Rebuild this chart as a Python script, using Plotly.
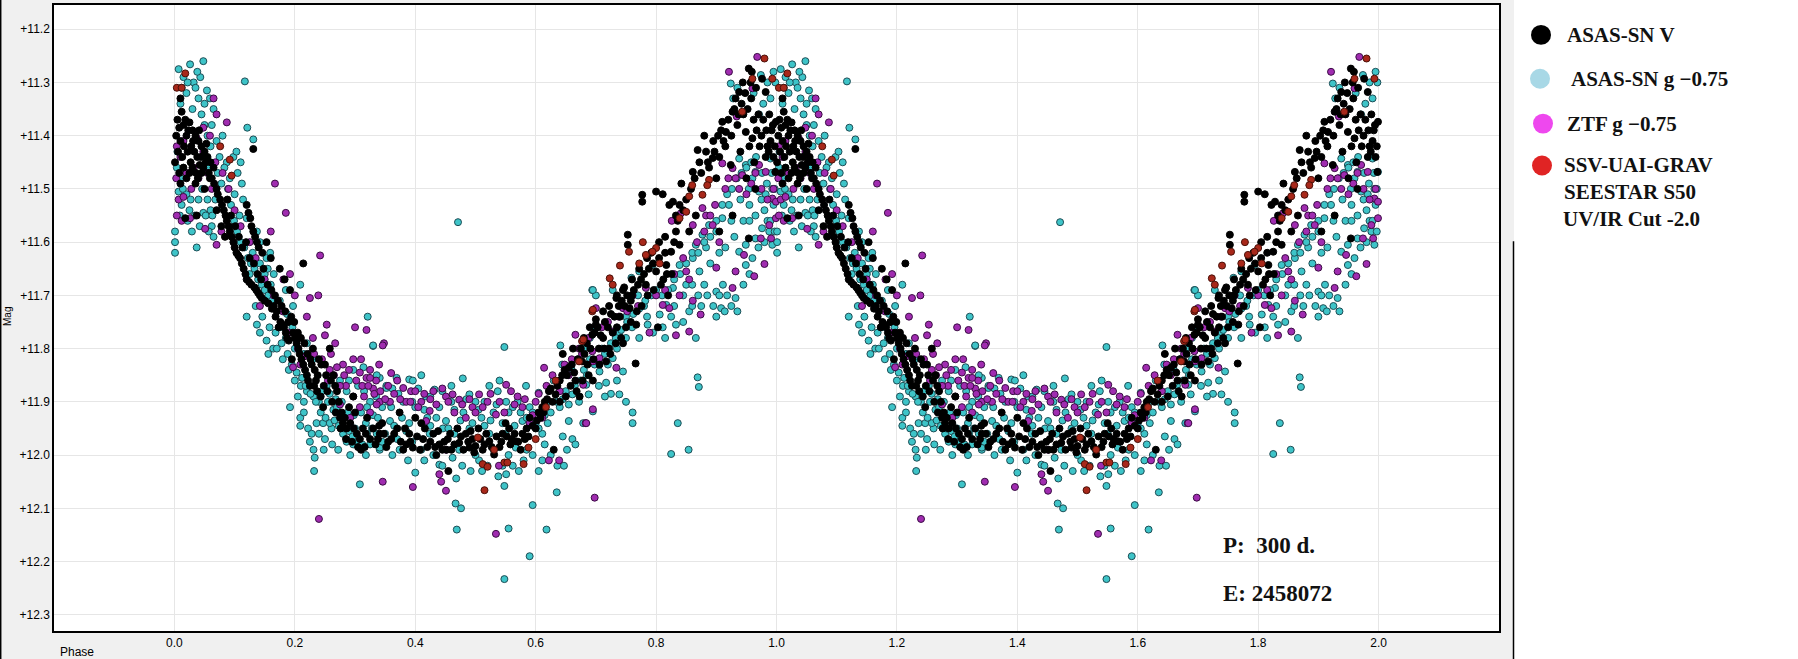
import plotly.graph_objects as go

# ---------------- data (phase in [0,1), magnitude) ----------------
asassn_v = [
    (0.010, 11.330), (0.012, 11.355), (0.005, 11.370), (0.015, 11.380), (0.025, 11.375), (0.030, 11.390),
    (0.020, 11.400), (0.035, 11.400), (0.040, 11.410), (0.045, 11.420), (0.010, 11.410), (0.028, 11.420),
    (0.050, 11.430), (0.038, 11.440), (0.055, 11.440), (0.060, 11.450), (0.001, 11.450), (0.015, 11.460),
    (0.030, 11.460), (0.045, 11.470), (0.065, 11.460), (0.020, 11.480), (0.035, 11.490), (0.010, 11.490),
    (0.050, 11.500), (0.059, 11.480), (0.018, 11.555), (0.037, 11.550), (0.008, 11.385), (0.022, 11.430),
    (0.042, 11.455), (0.070, 11.500), (0.076, 11.520), (0.082, 11.540), (0.087, 11.560), (0.092, 11.580),
    (0.098, 11.600), (0.103, 11.620), (0.109, 11.630), (0.115, 11.650), (0.120, 11.670), (0.128, 11.680),
    (0.136, 11.690), (0.142, 11.700), (0.120, 11.530), (0.126, 11.555), (0.131, 11.580), (0.137, 11.600),
    (0.131, 11.425), (0.153, 11.600), (0.160, 11.630), (0.150, 11.710), (0.165, 11.720), (0.175, 11.650),
    (0.183, 11.670), (0.192, 11.690), (0.170, 11.730), (0.176, 11.750), (0.182, 11.760), (0.187, 11.780),
    (0.197, 11.770), (0.203, 11.790), (0.208, 11.810), (0.214, 11.830), (0.220, 11.850), (0.214, 11.640),
    (0.195, 11.820), (0.225, 11.870), (0.230, 11.800), (0.235, 11.860), (0.240, 11.820), (0.250, 11.830),
    (0.258, 11.800), (0.264, 11.850), (0.247, 11.910), (0.270, 11.880), (0.275, 11.930), (0.280, 11.940),
    (0.286, 11.950), (0.290, 11.910), (0.297, 11.890), (0.300, 11.920), (0.308, 11.970), (0.310, 11.990),
    (0.320, 11.930), (0.330, 11.950), (0.338, 11.970),
    (0.341, 11.960), (0.345, 11.940), (0.352, 11.985), (0.360, 11.970), (0.370, 11.950), (0.374, 11.920),
    (0.380, 11.990), (0.385, 11.980), (0.390, 11.960), (0.396, 11.986), (0.400, 11.930), (0.410, 11.940),
    (0.413, 11.970), (0.420, 11.985), (0.430, 11.960), (0.435, 12.000), (0.440, 11.980), (0.445, 11.990),
    (0.454, 11.970), (0.455, 12.030), (0.460, 11.990), (0.470, 11.950), (0.473, 11.977), (0.480, 11.990),
    (0.484, 11.960), (0.490, 11.986), (0.495, 11.970), (0.500, 11.983), (0.505, 11.950), (0.515, 11.980),
    (0.523, 11.974), (0.531, 11.999), (0.540, 11.985), (0.545, 11.960), (0.550, 11.940), (0.556, 11.950),
    (0.560, 11.970), (0.567, 11.974), (0.575, 11.990), (0.578, 11.960), (0.585, 11.950), (0.590, 11.930),
    (0.600, 11.950), (0.605, 11.920), (0.611, 11.910), (0.615, 11.900), (0.622, 11.880), (0.630, 11.990),
    (0.633, 11.886), (0.644, 11.850), (0.655, 11.836), (0.666, 11.860), (0.673, 11.890), (0.677, 11.824),
    (0.688, 11.850), (0.694, 11.774), (0.700, 11.755),
    (0.695, 11.860), (0.717, 11.824), (0.728, 11.770), (0.734, 11.705), (0.740, 11.740), (0.756, 11.724),
    (0.767, 11.755), (0.766, 11.828), (0.753, 11.586), (0.753, 11.605), (0.777, 11.511), (0.777, 11.524),
    (0.783, 11.680), (0.800, 11.505), (0.800, 11.655), (0.803, 11.760), (0.811, 11.510), (0.817, 11.643),
    (0.822, 11.530), (0.825, 11.618), (0.828, 11.524), (0.833, 11.580), (0.833, 11.550), (0.839, 11.530),
    (0.839, 11.605), (0.842, 11.490), (0.855, 11.580), (0.861, 11.468), (0.866, 11.550), (0.869, 11.427),
    (0.872, 11.450), (0.883, 11.430), (0.894, 11.442), (0.900, 11.480), (0.905, 11.580), (0.910, 11.374),
    (0.916, 11.393), (0.924, 11.455), (0.927, 11.355), (0.927, 11.550), (0.932, 11.330), (0.938, 11.318),
    (0.949, 11.393), (0.954, 11.274), (0.954, 11.593), (0.957, 11.300), (0.960, 11.405), (0.965, 11.500),
    (0.970, 11.360), (0.976, 11.293), (0.982, 11.318), (0.982, 11.440), (0.988, 11.360), (0.998, 11.468),
    (0.999, 11.374), (0.745, 11.690), (0.760, 11.700), (0.812, 11.670), (0.820, 11.700), (0.826, 11.660),
    (0.705, 11.800), (0.712, 11.780), (0.722, 11.800), (0.735, 11.760), (0.745, 11.790),
    (0.880, 11.400), (0.888, 11.460), (0.895, 11.410), (0.905, 11.440), (0.915, 11.420),
    (0.935, 11.380), (0.945, 11.360), (0.955, 11.420), (0.963, 11.450), (0.975, 11.400), (0.985, 11.420),
    (0.992, 11.390), (0.940, 11.430), (0.950, 11.480), (0.995, 11.440),
    (0.003, 11.400), (0.006, 11.430), (0.013, 11.440), (0.018, 11.370), (0.023, 11.390), (0.027, 11.450),
    (0.033, 11.430), (0.036, 11.470), (0.041, 11.390), (0.044, 11.440), (0.048, 11.460), (0.052, 11.450),
    (0.057, 11.470), (0.062, 11.480), (0.025, 11.470), (0.016, 11.420), (0.031, 11.410), (0.008, 11.470),
    (0.039, 11.480), (0.053, 11.415),
    (0.066, 11.490), (0.072, 11.510), (0.079, 11.530), (0.085, 11.550), (0.090, 11.570), (0.095, 11.590),
    (0.100, 11.610), (0.106, 11.625), (0.112, 11.640), (0.118, 11.660), (0.124, 11.675), (0.133, 11.685),
    (0.139, 11.695), (0.145, 11.705), (0.123, 11.545), (0.128, 11.570), (0.134, 11.590), (0.140, 11.610),
    (0.146, 11.620),
    (0.156, 11.715), (0.162, 11.725), (0.168, 11.740), (0.173, 11.760), (0.179, 11.755), (0.185, 11.770),
    (0.190, 11.785), (0.200, 11.780), (0.206, 11.800), (0.211, 11.820), (0.217, 11.840), (0.222, 11.860),
    (0.228, 11.830), (0.233, 11.840), (0.238, 11.850), (0.244, 11.830), (0.252, 11.850), (0.260, 11.860),
    (0.267, 11.870), (0.273, 11.900), (0.278, 11.920), (0.283, 11.930), (0.292, 11.940), (0.298, 11.950),
    (0.303, 11.960), (0.313, 11.950), (0.318, 11.960), (0.325, 11.970), (0.334, 11.980), (0.340, 11.945),
    (0.348, 11.960), (0.355, 11.975), (0.365, 11.960), (0.376, 11.975), (0.383, 11.950), (0.392, 11.975),
    (0.403, 11.965), (0.408, 11.990), (0.416, 11.950), (0.425, 11.975), (0.433, 11.985), (0.438, 11.955),
    (0.448, 11.975), (0.452, 11.990), (0.458, 11.960), (0.465, 11.980), (0.476, 11.965), (0.488, 11.975),
    (0.492, 11.955), (0.498, 11.995), (0.508, 11.970), (0.512, 11.990), (0.518, 11.960), (0.527, 11.985),
    (0.535, 11.965), (0.543, 11.975), (0.552, 11.965), (0.558, 11.980), (0.565, 11.960), (0.571, 11.975),
    (0.582, 11.970), (0.588, 11.965), (0.595, 11.945), (0.602, 11.935), (0.608, 11.930), (0.613, 11.920),
    (0.619, 11.895), (0.625, 11.875), (0.628, 11.900),
    (0.636, 11.870), (0.640, 11.860), (0.648, 11.840), (0.652, 11.850), (0.660, 11.830), (0.664, 11.845),
    (0.670, 11.820), (0.675, 11.800), (0.681, 11.810), (0.685, 11.790), (0.691, 11.800), (0.698, 11.770),
    (0.703, 11.760), (0.708, 11.775), (0.715, 11.750), (0.720, 11.760), (0.725, 11.735), (0.731, 11.740),
    (0.738, 11.720), (0.743, 11.710), (0.748, 11.720), (0.752, 11.700), (0.758, 11.710), (0.763, 11.690),
    (0.770, 11.680), (0.775, 11.670), (0.780, 11.660), (0.788, 11.650), (0.795, 11.640), (0.805, 11.630),
    (0.815, 11.620), (0.830, 11.600), (0.836, 11.560), (0.845, 11.540), (0.850, 11.520), (0.858, 11.500),
    (0.864, 11.480), (0.875, 11.470), (0.886, 11.450), (0.897, 11.430), (0.903, 11.400), (0.908, 11.390),
    (0.912, 11.410), (0.920, 11.370), (0.925, 11.400), (0.930, 11.350), (0.937, 11.360), (0.942, 11.340),
    (0.948, 11.320), (0.952, 11.350), (0.958, 11.330), (0.962, 11.370), (0.967, 11.390), (0.972, 11.420),
    (0.978, 11.370), (0.983, 11.390), (0.987, 11.430), (0.990, 11.410), (0.994, 11.380), (0.997, 11.420),
    (0.966, 11.310), (0.944, 11.300), (0.959, 11.280),
    (0.070, 11.540), (0.078, 11.570), (0.084, 11.590), (0.088, 11.520), (0.094, 11.550), (0.101, 11.570),
    (0.107, 11.590), (0.113, 11.610), (0.119, 11.600), (0.125, 11.630), (0.132, 11.640), (0.138, 11.660),
    (0.144, 11.670), (0.148, 11.650), (0.155, 11.680), (0.161, 11.690), (0.167, 11.700), (0.172, 11.710),
    (0.178, 11.720), (0.184, 11.730), (0.189, 11.750), (0.194, 11.740), (0.199, 11.750), (0.205, 11.770),
    (0.210, 11.780), (0.216, 11.790), (0.221, 11.810), (0.226, 11.820), (0.232, 11.870), (0.237, 11.880),
    (0.243, 11.890), (0.248, 11.870), (0.254, 11.880), (0.262, 11.900), (0.268, 11.920), (0.276, 11.950),
    (0.285, 11.970), (0.295, 11.975), (0.305, 11.985), (0.316, 11.985),
    (0.640, 11.900), (0.650, 11.890), (0.658, 11.870), (0.668, 11.880), (0.678, 11.860), (0.686, 11.830),
    (0.696, 11.820), (0.706, 11.830), (0.714, 11.800), (0.724, 11.810), (0.733, 11.790), (0.742, 11.780),
    (0.750, 11.760), (0.758, 11.750), (0.768, 11.730), (0.776, 11.720), (0.786, 11.700), (0.796, 11.690),
    (0.808, 11.680), (0.818, 11.660), (0.645, 11.810), (0.662, 11.800), (0.680, 11.780), (0.690, 11.760),
    (0.700, 11.745), (0.712, 11.730), (0.722, 11.720), (0.735, 11.700), (0.747, 11.685), (0.760, 11.670),
    (0.772, 11.650), (0.785, 11.630), (0.792, 11.620), (0.805, 11.600), (0.815, 11.590),
]

asassn_g = [
    (0.007, 11.275), (0.026, 11.266), (0.048, 11.260), (0.043, 11.290), (0.032, 11.300), (0.020, 11.320),
    (0.054, 11.315), (0.059, 11.330), (0.015, 11.290), (0.038, 11.280), (0.117, 11.298), (0.121, 11.385),
    (0.131, 11.407), (0.001, 11.580), (0.001, 11.600), (0.001, 11.620), (0.037, 11.610), (0.029, 11.580),
    (0.065, 11.590), (0.062, 11.570), (0.048, 11.545), (0.007, 11.505), (0.010, 11.480), (0.005, 11.430),
    (0.012, 11.530), (0.020, 11.510), (0.025, 11.540), (0.040, 11.520), (0.055, 11.520), (0.060, 11.540),
    (0.045, 11.360), (0.050, 11.380), (0.055, 11.400), (0.060, 11.420), (0.065, 11.350), (0.058, 11.460),
    (0.030, 11.350), (0.087, 11.450), (0.098, 11.440), (0.092, 11.480), (0.112, 11.490), (0.114, 11.520),
    (0.120, 11.555), (0.137, 11.580), (0.142, 11.600), (0.153, 11.630), (0.159, 11.620), (0.142, 11.640),
    (0.125, 11.660), (0.105, 11.470), (0.100, 11.510), (0.108, 11.550), (0.130, 11.620), (0.150, 11.660),
    (0.160, 11.680), (0.135, 11.720), (0.120, 11.740), (0.137, 11.755), (0.142, 11.770), (0.153, 11.785),
    (0.164, 11.800), (0.156, 11.810), (0.175, 11.760), (0.187, 11.735), (0.197, 11.720), (0.209, 11.680),
    (0.192, 11.910), (0.209, 11.930), (0.209, 11.945), (0.220, 11.880), (0.225, 11.975), (0.231, 11.990),
    (0.233, 12.005), (0.232, 12.030), (0.236, 11.940), (0.247, 11.940), (0.250, 11.970), (0.261, 11.950),
    (0.264, 11.915), (0.231, 11.890), (0.253, 11.870), (0.286, 11.880), (0.297, 11.840), (0.314, 11.835),
    (0.321, 11.740), (0.330, 11.795), (0.341, 11.855), (0.352, 11.870), (0.341, 11.990), (0.308, 12.055),
    (0.286, 11.975), (0.297, 11.980), (0.170, 11.800), (0.180, 11.820), (0.190, 11.840), (0.200, 11.860),
    (0.210, 11.870), (0.215, 11.900), (0.185, 11.780), (0.200, 11.800), (0.215, 11.810), (0.240, 11.900),
    (0.255, 11.900), (0.270, 11.910), (0.275, 11.860), (0.290, 11.860), (0.305, 11.870), (0.315, 11.880),
    (0.325, 11.900), (0.335, 11.890), (0.280, 11.960), (0.300, 11.950), (0.320, 11.960), (0.325, 11.980),
    (0.471, 11.5625), (0.548, 11.797), (0.641, 11.794), (0.330, 11.794), (0.694, 11.690), (0.700, 11.700),
    (0.336, 11.850), (0.352, 11.874), (0.369, 11.855), (0.390, 11.858), (0.410, 11.850), (0.418, 11.890),
    (0.432, 11.877), (0.479, 11.856), (0.490, 11.886), (0.500, 11.900), (0.523, 11.870), (0.537, 11.880),
    (0.551, 11.900), (0.562, 11.910), (0.584, 11.870), (0.605, 11.883), (0.617, 11.905), (0.341, 11.986),
    (0.374, 11.990), (0.390, 11.940), (0.424, 11.960), (0.446, 11.950), (0.462, 12.005), (0.473, 11.990),
    (0.506, 12.010), (0.511, 12.030), (0.545, 12.020), (0.551, 12.036), (0.562, 12.020), (0.595, 12.000),
    (0.611, 12.010), (0.636, 12.020), (0.647, 12.020), (0.661, 11.970), (0.666, 11.980), (0.655, 11.936),
    (0.400, 12.033), (0.440, 12.018), (0.468, 12.044), (0.467, 12.091), (0.476, 12.100), (0.469, 12.140),
    (0.548, 12.058), (0.555, 12.138), (0.595, 12.094), (0.618, 12.140), (0.590, 12.190), (0.548, 12.233),
    (0.635, 12.070), (0.644, 11.830), (0.672, 11.900), (0.688, 11.886), (0.396, 11.860), (0.358, 11.936),
    (0.451, 11.936), (0.490, 11.950), (0.578, 11.936), (0.611, 11.960), (0.661, 11.886), (0.523, 11.960),
    (0.567, 11.986), (0.360, 11.910), (0.380, 11.900), (0.400, 11.910), (0.420, 11.930), (0.440, 11.910),
    (0.460, 11.900), (0.480, 11.920), (0.510, 11.930), (0.530, 11.920), (0.550, 11.960), (0.570, 11.900),
    (0.590, 11.910), (0.600, 11.940), (0.620, 11.940), (0.630, 11.860), (0.650, 11.880), (0.660, 11.840),
    (0.670, 11.820), (0.680, 11.800), (0.690, 11.780), (0.640, 11.910), (0.350, 11.960), (0.370, 11.970),
    (0.410, 11.990), (0.430, 12.000), (0.500, 12.000), (0.530, 11.990), (0.580, 12.010), (0.460, 11.870),
    (0.540, 11.860),
    (0.924, 11.302), (0.974, 11.286), (0.971, 11.360), (0.938, 11.443), (0.949, 11.455), (0.960, 11.480),
    (0.971, 11.505), (0.982, 11.510), (0.993, 11.500), (0.999, 11.468), (0.990, 11.443), (0.993, 11.605),
    (0.988, 11.580), (0.921, 11.530), (0.910, 11.555), (0.900, 11.580), (0.883, 11.610), (0.872, 11.655),
    (0.861, 11.630), (0.850, 11.680), (0.839, 11.643), (0.828, 11.686), (0.817, 11.718), (0.811, 11.760),
    (0.806, 11.736), (0.866, 11.780), (0.855, 11.730), (0.833, 11.755), (0.900, 11.693), (0.911, 11.680),
    (0.908, 11.724), (0.914, 11.730), (0.900, 11.740), (0.932, 11.705), (0.935, 11.730), (0.938, 11.618),
    (0.949, 11.643), (0.960, 11.630), (0.965, 11.593), (0.976, 11.574), (0.949, 11.605), (0.869, 11.854),
    (0.871, 11.872), (0.836, 11.940), (0.825, 11.998), (0.854, 11.990), (0.750, 11.900), (0.761, 11.920),
    (0.761, 11.940), (0.739, 11.886), (0.725, 11.885), (0.717, 11.864), (0.695, 11.690), (0.728, 11.690),
    (0.759, 11.667), (0.772, 11.655), (0.794, 11.643), (0.739, 11.770), (0.750, 11.740), (0.772, 11.780),
    (0.786, 11.755), (0.684, 11.868), (0.706, 11.843), (0.728, 11.818), (0.745, 11.843), (0.679, 11.940),
    (0.695, 11.918), (0.866, 11.605), (0.877, 11.586), (0.888, 11.568), (0.954, 11.500), (0.965, 11.468),
    (0.980, 11.540), (0.985, 11.560), (0.995, 11.530), (0.925, 11.560), (0.940, 11.520), (0.955, 11.530),
    (0.945, 11.560), (0.930, 11.590), (0.915, 11.610), (0.905, 11.620), (0.890, 11.640), (0.880, 11.680),
    (0.870, 11.700), (0.860, 11.720), (0.845, 11.700), (0.825, 11.740), (0.815, 11.780), (0.780, 11.720),
    (0.770, 11.700), (0.760, 11.760), (0.750, 11.780), (0.735, 11.800), (0.720, 11.830), (0.710, 11.800),
    (0.700, 11.760), (0.690, 11.820), (0.680, 11.840), (0.985, 11.300), (0.990, 11.330), (0.995, 11.280),
    (0.004, 11.460), (0.009, 11.550), (0.014, 11.500), (0.022, 11.560), (0.027, 11.520), (0.034, 11.550),
    (0.042, 11.570), (0.046, 11.500), (0.052, 11.550), (0.057, 11.580), (0.063, 11.550), (0.068, 11.520),
    (0.072, 11.470), (0.078, 11.490), (0.083, 11.460), (0.089, 11.500), (0.094, 11.530), (0.099, 11.560),
    (0.104, 11.580), (0.110, 11.600), (0.116, 11.610), (0.122, 11.630), (0.127, 11.640), (0.133, 11.650),
    (0.139, 11.670), (0.145, 11.680), (0.150, 11.690), (0.156, 11.700), (0.162, 11.710), (0.146, 11.740),
    (0.158, 11.760), (0.168, 11.770), (0.178, 11.790), (0.188, 11.810), (0.195, 11.830), (0.203, 11.845),
    (0.212, 11.855), (0.218, 11.870), (0.226, 11.885), (0.235, 11.900), (0.243, 11.920), (0.251, 11.930),
    (0.258, 11.940), (0.266, 11.935), (0.273, 11.945), (0.282, 11.950), (0.290, 11.955), (0.296, 11.965),
    (0.305, 11.975), (0.312, 11.980), (0.318, 11.940), (0.328, 11.950), (0.336, 11.960), (0.345, 11.975),
    (0.245, 11.880), (0.258, 11.885), (0.268, 11.895), (0.278, 11.900), (0.288, 11.920), (0.298, 11.925),
    (0.310, 11.920), (0.320, 11.910), (0.330, 11.925), (0.338, 11.930), (0.345, 11.910), (0.205, 11.890),
    (0.215, 11.920), (0.222, 11.950), (0.228, 11.960), (0.240, 11.960), (0.248, 11.990), (0.262, 11.980),
    (0.272, 11.990), (0.292, 12.000), (0.318, 12.000), (0.175, 11.710), (0.182, 11.730), (0.190, 11.750),
    (0.196, 11.760), (0.205, 11.775), (0.220, 11.790), (0.230, 11.820), (0.185, 11.690), (0.165, 11.660),
    (0.155, 11.650), (0.103, 11.430), (0.110, 11.450), (0.075, 11.440), (0.080, 11.400), (0.070, 11.410),
    (0.062, 11.380), (0.040, 11.330), (0.035, 11.310), (0.050, 11.340), (0.010, 11.340), (0.022, 11.300),
    (0.012, 11.310),
    (0.355, 11.900), (0.362, 11.875), (0.372, 11.885), (0.378, 11.930), (0.385, 11.955), (0.395, 11.900),
    (0.405, 11.875), (0.415, 11.915), (0.425, 11.890), (0.435, 11.930), (0.445, 11.880), (0.455, 11.950),
    (0.465, 11.915), (0.475, 11.935), (0.485, 11.895), (0.495, 11.940), (0.505, 11.915), (0.515, 11.900),
    (0.525, 11.935), (0.535, 11.905), (0.545, 11.940), (0.555, 11.920), (0.565, 11.945), (0.575, 11.920),
    (0.585, 11.930), (0.595, 11.920), (0.605, 11.950), (0.615, 11.925), (0.625, 11.920), (0.635, 11.900),
    (0.645, 11.895), (0.655, 11.905), (0.362, 12.000), (0.388, 12.010), (0.415, 12.010), (0.445, 12.020),
    (0.478, 12.020), (0.492, 12.030), (0.520, 12.020), (0.538, 12.040), (0.572, 12.030), (0.605, 12.030),
    (0.625, 12.000), (0.652, 11.990), (0.365, 11.945), (0.395, 11.975), (0.425, 11.945), (0.465, 11.960),
    (0.515, 11.945), (0.555, 12.000), (0.585, 11.990), (0.615, 11.980), (0.645, 11.965),
    (0.665, 11.870), (0.675, 11.860), (0.685, 11.850), (0.698, 11.830), (0.705, 11.820), (0.715, 11.810),
    (0.725, 11.790), (0.733, 11.780), (0.742, 11.765), (0.752, 11.750), (0.762, 11.735), (0.772, 11.725),
    (0.782, 11.710), (0.792, 11.700), (0.800, 11.690), (0.810, 11.700), (0.820, 11.690), (0.830, 11.670),
    (0.840, 11.660), (0.850, 11.640), (0.860, 11.620), (0.870, 11.620), (0.880, 11.600), (0.890, 11.590),
    (0.900, 11.560), (0.910, 11.530), (0.918, 11.510), (0.926, 11.500), (0.934, 11.480), (0.942, 11.470),
    (0.950, 11.460), (0.958, 11.450), (0.966, 11.440), (0.976, 11.470), (0.984, 11.490), (0.992, 11.470),
    (0.997, 11.500), (0.955, 11.560), (0.965, 11.550), (0.975, 11.520), (0.990, 11.560), (0.997, 11.580),
    (0.860, 11.680), (0.875, 11.720), (0.885, 11.700), (0.895, 11.720), (0.905, 11.700), (0.918, 11.700),
    (0.925, 11.720), (0.945, 11.680), (0.955, 11.660), (0.970, 11.610), (0.980, 11.600), (0.830, 11.720),
    (0.845, 11.750), (0.795, 11.770), (0.785, 11.740), (0.705, 11.870), (0.715, 11.890), (0.735, 11.860),
    (0.928, 11.330), (0.935, 11.310), (0.962, 11.320), (0.978, 11.340), (0.998, 11.300),
]

ztf_g = [
    (0.065, 11.330), (0.070, 11.360), (0.087, 11.375), (0.048, 11.385), (0.059, 11.400), (0.037, 11.405),
    (0.004, 11.420), (0.015, 11.410), (0.032, 11.460), (0.003, 11.480), (0.007, 11.520), (0.015, 11.515),
    (0.004, 11.550), (0.012, 11.560), (0.026, 11.555), (0.051, 11.575), (0.070, 11.605), (0.078, 11.580),
    (0.167, 11.490), (0.185, 11.545), (0.242, 11.625), (0.192, 11.660), (0.181, 11.670), (0.225, 11.705),
    (0.239, 11.700), (0.142, 11.720), (0.220, 11.740), (0.253, 11.755), (0.300, 11.760), (0.319, 11.765),
    (0.250, 11.775), (0.267, 11.790), (0.348, 11.790), (0.297, 11.820), (0.280, 11.830), (0.197, 11.835),
    (0.209, 11.830), (0.225, 11.810), (0.308, 11.845), (0.319, 11.855), (0.330, 11.875), (0.297, 11.890),
    (0.308, 11.910), (0.341, 11.900), (0.292, 11.930), (0.275, 11.905), (0.346, 12.050), (0.048, 11.430),
    (0.062, 11.500), (0.240, 12.120), (0.255, 11.860), (0.265, 11.850), (0.285, 11.870), (0.315, 11.890),
    (0.325, 11.920), (0.335, 11.860), (0.230, 11.780),
    (0.346, 11.794), (0.360, 11.846), (0.396, 12.060), (0.440, 12.036), (0.443, 12.050), (0.451, 12.067),
    (0.534, 12.148), (0.614, 11.836), (0.698, 12.080), (0.622, 12.010), (0.639, 12.010), (0.683, 11.940),
    (0.380, 11.874), (0.385, 11.900), (0.393, 11.880), (0.358, 11.900), (0.424, 11.917), (0.451, 11.890),
    (0.462, 11.886), (0.473, 11.896), (0.506, 11.886), (0.551, 11.868), (0.559, 11.880), (0.534, 11.924),
    (0.578, 11.910), (0.600, 11.900), (0.611, 11.930), (0.484, 11.930), (0.418, 11.936), (0.336, 11.905),
    (0.325, 11.855), (0.677, 11.810), (0.694, 11.805), (0.700, 11.724), (0.666, 11.774), (0.451, 11.990),
    (0.539, 12.020), (0.370, 11.860), (0.410, 11.900), (0.430, 11.880), (0.495, 11.910), (0.520, 11.900),
    (0.570, 11.890), (0.590, 11.940), (0.640, 11.880), (0.655, 11.850), (0.400, 11.880),
    (0.968, 11.252), (0.921, 11.280), (0.960, 11.311), (0.934, 11.364), (0.910, 11.452), (0.927, 11.461),
    (0.932, 11.480), (0.943, 11.474), (0.971, 11.455), (0.982, 11.468), (0.993, 11.518), (0.999, 11.524),
    (0.999, 11.555), (0.988, 11.568), (0.877, 11.536), (0.883, 11.550), (0.894, 11.568), (0.905, 11.600),
    (0.826, 11.560), (0.841, 11.546), (0.861, 11.568), (0.900, 11.648), (0.932, 11.655), (0.946, 11.624),
    (0.963, 11.664), (0.974, 11.593), (0.980, 11.641), (0.991, 11.593), (0.927, 11.686), (0.839, 11.700),
    (0.850, 11.655), (0.855, 11.670), (0.861, 11.710), (0.874, 11.736), (0.855, 11.768), (0.833, 11.775),
    (0.789, 11.770), (0.745, 11.724), (0.728, 11.768), (0.706, 11.818), (0.695, 11.824), (0.695, 11.914),
    (0.684, 11.940), (0.679, 11.868), (0.734, 11.836), (0.761, 11.700), (0.783, 11.686), (0.811, 11.718),
    (0.822, 11.724),
    (0.205, 11.800), (0.215, 11.815), (0.232, 11.810), (0.245, 11.820), (0.258, 11.840), (0.270, 11.835),
    (0.282, 11.850), (0.290, 11.840), (0.302, 11.860), (0.312, 11.870), (0.322, 11.870), (0.332, 11.885),
    (0.342, 11.880), (0.350, 11.895), (0.355, 11.870), (0.365, 11.885), (0.375, 11.895), (0.392, 11.900),
    (0.405, 11.910), (0.415, 11.885), (0.425, 11.895), (0.435, 11.905), (0.445, 11.875), (0.455, 11.900),
    (0.465, 11.920), (0.478, 11.905), (0.490, 11.895), (0.500, 11.920), (0.512, 11.910), (0.525, 11.885),
    (0.540, 11.900), (0.548, 11.920), (0.565, 11.905), (0.582, 11.895), (0.595, 11.925), (0.605, 11.885),
    (0.618, 11.870), (0.628, 11.850), (0.648, 11.830), (0.660, 11.820), (0.672, 11.800), (0.688, 11.780),
    (0.710, 11.760), (0.720, 11.750), (0.738, 11.740), (0.752, 11.730), (0.770, 11.720), (0.800, 11.700),
    (0.815, 11.690), (0.830, 11.660), (0.845, 11.630), (0.868, 11.600), (0.880, 11.580), (0.890, 11.550),
    (0.898, 11.530), (0.915, 11.500), (0.920, 11.480), (0.938, 11.500), (0.950, 11.510), (0.958, 11.490),
    (0.965, 11.470), (0.975, 11.500), (0.985, 11.520), (0.995, 11.500), (0.010, 11.440), (0.020, 11.470),
    (0.028, 11.500), (0.040, 11.480), (0.055, 11.470), (0.068, 11.450), (0.080, 11.470), (0.090, 11.500),
    (0.100, 11.540), (0.110, 11.570), (0.125, 11.600), (0.135, 11.630), (0.150, 11.670), (0.165, 11.700),
    (0.180, 11.730), (0.190, 11.770), (0.160, 11.580), (0.200, 11.700), (0.260, 11.810), (0.275, 11.870),
    (0.310, 11.820), (0.325, 11.840), (0.340, 11.830),
]

ssv_seestar = [
    (0.018, 11.283), (0.004, 11.310), (0.012, 11.310), (0.076, 11.420), (0.092, 11.445), (0.095, 11.475),
    (0.515, 12.066), (0.512, 12.017), (0.520, 12.022), (0.548, 12.014), (0.553, 12.014), (0.580, 12.017),
    (0.504, 11.967), (0.531, 11.990), (0.588, 11.986), (0.600, 11.970), (0.617, 11.910), (0.633, 11.860),
    (0.672, 11.824), (0.677, 11.786), (0.694, 11.730), (0.980, 11.255), (0.960, 11.293), (0.993, 11.293),
    (0.943, 11.355), (0.888, 11.483), (0.885, 11.493), (0.877, 11.511), (0.860, 11.493), (0.855, 11.514),
    (0.850, 11.543), (0.839, 11.555), (0.778, 11.600), (0.800, 11.611), (0.794, 11.618), (0.783, 11.624),
    (0.755, 11.618), (0.772, 11.640), (0.806, 11.640), (0.740, 11.644), (0.723, 11.668), (0.728, 11.680),
    (0.695, 11.727), (0.679, 11.783),
]

x_tick_vals = [0.0, 0.2, 0.4, 0.6, 0.8, 1.0, 1.2, 1.4, 1.6, 1.8, 2.0]
x_tick_text = ["0.0", "0.2", "0.4", "0.6", "0.8", "1.0", "1.2", "1.4", "1.6", "1.8", "2.0"]
y_tick_vals = [11.2, 11.3, 11.4, 11.5, 11.6, 11.7, 11.8, 11.9, 12.0, 12.1, 12.2, 12.3]
y_tick_text = ["+11.2", "+11.3", "+11.4", "+11.5", "+11.6", "+11.7", "+11.8", "+11.9",
               "+12.0", "+12.1", "+12.2", "+12.3"]

legend_labels = ["ASAS-SN V", "ASAS-SN g \u22120.75", "ZTF g \u22120.75",
                 "SSV-UAI-GRAV", "SEESTAR S50", "UV/IR Cut -2.0"]
period_text = "P:  300 d."
epoch_text = "E: 2458072"

# ---------------- layout geometry ----------------
W, H = 1798, 659
ML, MR, MT, MB = 54, 299, 3, 28
PW, PH = W - ML - MR, H - MT - MB


def pxx(x):
    return (x - ML) / PW


def pxy(y):
    return (H - MB - y) / PH


def folded(series):
    ph = [p for p, m in series]
    mg = [m for p, m in series]
    return ph + [p + 1.0 for p in ph], mg + mg


fig = go.Figure()

styles = [
    (asassn_g, "ASAS-SN g", "#3ec4c8", "#1d4d55", 7),
    (ztf_g, "ZTF g", "#a02cb0", "#3a0c44", 7),
    (asassn_v, "ASAS-SN V", "#000000", "#000000", 7),
    (ssv_seestar, "SSV-UAI-GRAV", "#a8281a", "#4a1008", 7),
]
for series, name, fill, edge, size in styles:
    xs, ys = folded(series)
    fig.add_trace(go.Scatter(
        x=xs, y=ys, mode="markers", name=name, showlegend=False,
        marker=dict(size=size, color=fill, line=dict(color=edge, width=1)),
        hoverinfo="skip",
    ))

shapes = []
annotations = []

# white legend panel and separators
shapes.append(dict(type="rect", xref="paper", yref="paper",
                   x0=pxx(1514), x1=pxx(W + 5), y0=pxy(H + 5), y1=pxy(-5),
                   fillcolor="white", line=dict(width=0), layer="below"))
shapes.append(dict(type="line", xref="paper", yref="paper",
                   x0=pxx(1513.5), x1=pxx(1513.5), y0=pxy(H + 2), y1=pxy(240),
                   line=dict(color="black", width=1.5)))
shapes.append(dict(type="line", xref="paper", yref="paper",
                   x0=pxx(0.7), x1=pxx(0.7), y0=pxy(H + 2), y1=pxy(-2),
                   line=dict(color="black", width=1.5)))

legend_colors = ["#000000", "#a8d8e6", "#ee48ee", "#e02424"]
legend_circle_centers = [(1541, 33), (1540, 77), (1543, 122), (1542, 164)]
for (cx, cy), col in zip(legend_circle_centers, legend_colors):
    shapes.append(dict(type="circle", xref="paper", yref="paper",
                       x0=pxx(cx - 10), x1=pxx(cx + 10), y0=pxy(cy + 10), y1=pxy(cy - 10),
                       fillcolor=col, line=dict(width=0)))

legend_text_pos = [(1565, 33), (1569, 77), (1565, 122), (1562, 164), (1562, 191), (1561, 218)]
serif = "Liberation Serif, Times New Roman, serif"
for (tx, ty), txt in zip(legend_text_pos, legend_labels):
    annotations.append(dict(xref="paper", yref="paper", x=pxx(tx), y=pxy(ty),
                            text=txt, showarrow=False, xanchor="left", yanchor="middle",
                            font=dict(family=serif, size=21, color="#111111", weight="bold")))

# period / epoch text
annotations.append(dict(xref="paper", yref="paper", x=pxx(1221), y=pxy(545), text=period_text,
                        showarrow=False, xanchor="left", yanchor="middle",
                        font=dict(family=serif, size=23, color="#111111", weight="bold")))
annotations.append(dict(xref="paper", yref="paper", x=pxx(1221), y=pxy(593), text=epoch_text,
                        showarrow=False, xanchor="left", yanchor="middle",
                        font=dict(family=serif, size=23, color="#111111", weight="bold")))

# axis titles
annotations.append(dict(xref="paper", yref="paper", x=pxx(58), y=pxy(652), text="Phase",
                        showarrow=False, xanchor="left", yanchor="middle",
                        font=dict(family="Liberation Sans, Arial, sans-serif", size=12, color="#000")))
annotations.append(dict(xref="paper", yref="paper", x=pxx(7), y=pxy(316), text="Mag",
                        showarrow=False, xanchor="center", yanchor="middle", textangle=-90,
                        font=dict(family="Liberation Sans, Arial, sans-serif", size=10, color="#000")))

fig.update_layout(
    width=W, height=H,
    margin=dict(l=ML, r=MR, t=MT, b=MB, pad=0),
    paper_bgcolor="#f0f0f0",
    plot_bgcolor="white",
    showlegend=False,
    shapes=shapes,
    annotations=annotations,
    font=dict(family="Liberation Sans, Arial, sans-serif", size=12, color="#000"),
)
fig.update_xaxes(
    range=[-0.2, 2.2], tickvals=x_tick_vals, ticktext=x_tick_text,
    showgrid=True, gridcolor="#e6e6e6", gridwidth=1, zeroline=False,
    showline=True, linecolor="black", linewidth=1.5, mirror=True, ticks="",
    tickfont=dict(size=12, color="#000"),
)
fig.update_yaxes(
    range=[12.3305, 11.1545], tickvals=y_tick_vals, ticktext=y_tick_text,
    showgrid=True, gridcolor="#e6e6e6", gridwidth=1, zeroline=False,
    showline=True, linecolor="black", linewidth=1.5, mirror=True, ticks="",
    tickfont=dict(size=12, color="#000"),
)

fig.write_html(
    "out.html",
    config={"displayModeBar": False},
    post_script="document.body.style.margin='0px';document.body.style.overflow='hidden';",
)
